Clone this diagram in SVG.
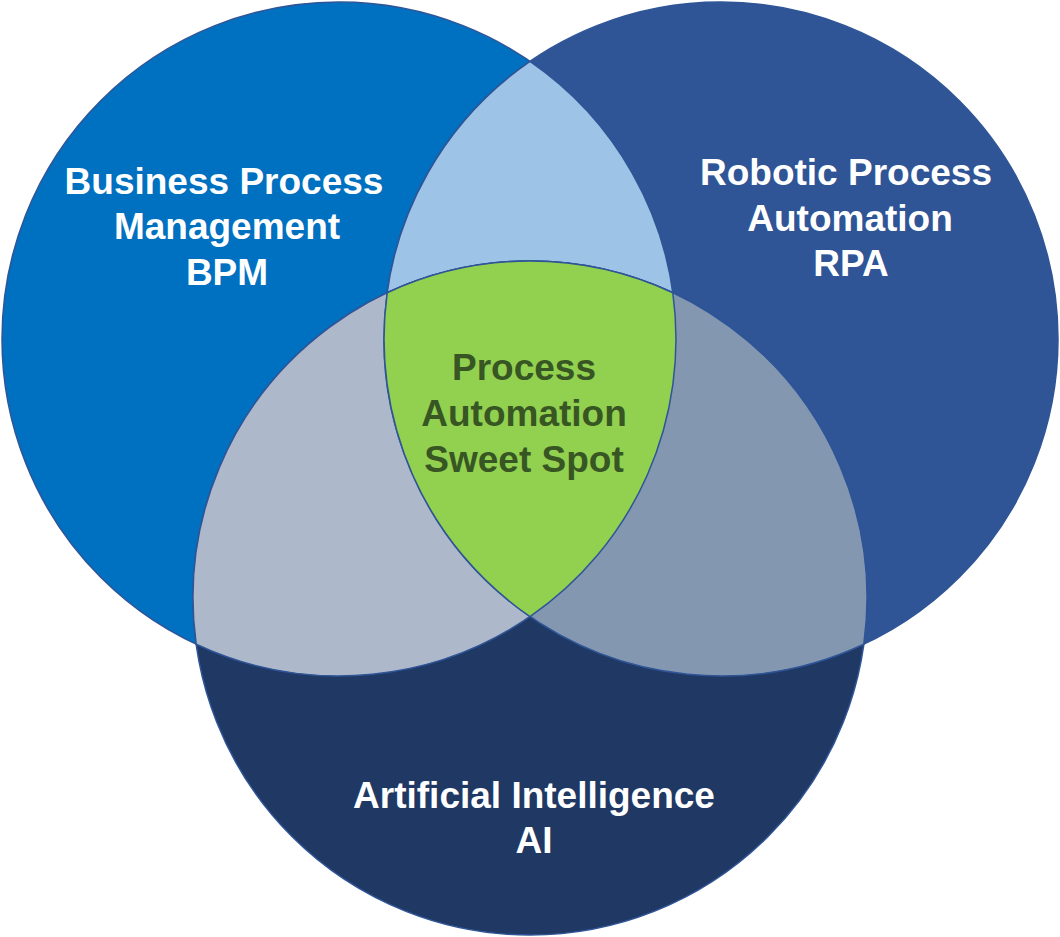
<svg xmlns="http://www.w3.org/2000/svg" width="1060" height="937" viewBox="0 0 1060 937">
<style>
.sh{stroke:#2F5597;stroke-width:1.5}
.lbl{font-family:"Liberation Sans",Arial,sans-serif;font-weight:bold;font-size:37px;text-anchor:middle;fill:#FFFFFF}
.ctr{fill:#375623}
</style>
<rect width="1060" height="937" fill="#FFFFFF"/>
<g id="bpm">
<circle class="sh" cx="339" cy="339" r="337" fill="#0070C0"/>
</g>
<g id="rpa">
<circle class="sh" cx="721" cy="339" r="337" fill="#2F5597"/>
</g>
<g id="ai">
<circle class="sh" cx="530" cy="598" r="337" fill="#203864"/>
</g>
<g id="bpm-rpa">
<path class="sh" fill="#9DC3E6" d="M530,61.4 A337,337 0 0 0 530,616.6 A337,337 0 0 0 530,61.4 Z"/>
</g>
<g id="bpm-ai">
<path class="sh" fill="#ADB9CA" d="M672.8,292.8 A337,337 0 0 0 196.2,644.2 A337,337 0 0 0 672.8,292.8 Z"/>
</g>
<g id="rpa-ai">
<path class="sh" fill="#8497B0" d="M387.2,292.8 A337,337 0 0 1 863.8,644.2 A337,337 0 0 1 387.2,292.8 Z"/>
</g>
<g id="sweet-spot">
<path class="sh" fill="#92D050" d="M387.2,292.8 A337,337 0 0 1 672.8,292.8 A337,337 0 0 1 530,616.6 A337,337 0 0 1 387.2,292.8 Z"/>
<text class="lbl ctr"><tspan x="524" y="380">Process</tspan><tspan x="524" y="426">Automation</tspan><tspan x="524" y="472">Sweet Spot</tspan></text>
</g>
<g id="labels">
<text class="lbl"><tspan x="224" y="194">Business Process</tspan><tspan x="227" y="239">Management</tspan><tspan x="227" y="285">BPM</tspan></text>
<text class="lbl"><tspan x="846" y="185">Robotic Process</tspan><tspan x="850" y="231">Automation</tspan><tspan x="851" y="276">RPA</tspan></text>
<text class="lbl"><tspan x="534" y="808">Artificial Intelligence</tspan><tspan x="534" y="853">AI</tspan></text>
</g>
<g id="connectors"></g>
</svg>
